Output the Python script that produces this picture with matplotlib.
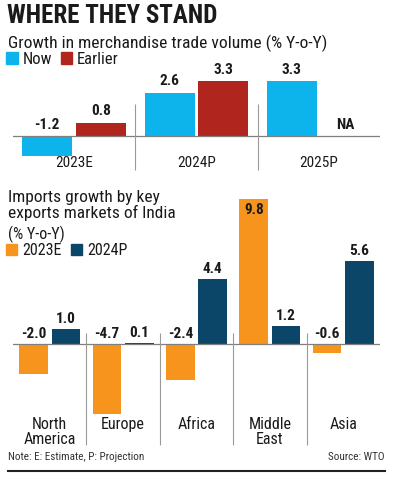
import numpy as np
import matplotlib
matplotlib.use("Agg")
import matplotlib.pyplot as plt
from matplotlib.lines import Line2D
from matplotlib.patches import Patch

plt.rcParams["font.family"] = ["Roboto Condensed", "Lato", "DejaVu Sans"]

# growth in merchandise trade volume
years = ["2023E", "2024P", "2025P"]
now = [-1.2, 2.6, 3.3]
earlier = [0.8, 3.3, np.nan]

# imports growth by key export markets
markets = ["North\nAmerica", "Europe", "Africa", "Middle\nEast", "Asia"]
imp_2023e = [-2.0, -4.7, -2.4, 9.8, -0.6]
imp_2024p = [1.0, 0.1, 4.4, 1.2, 5.6]

C_NOW = "#0db4ec"
C_EARLIER = "#b0261f"
C_23 = "#f7941e"
C_24 = "#0b4668"
C_TXT = "#1a1a1a"
C_SEP = "#9a9a9a"

W, H = 396, 478
fig = plt.figure(figsize=(W / 100, H / 100), dpi=100)


def px_axes(x0, y0, x1, y1):
    return fig.add_axes([x0 / W, 1 - y1 / H, (x1 - x0) / W, (y1 - y0) / H])


def clean(ax):
    for s in ax.spines.values():
        s.set_visible(False)
    ax.set_xticks([])
    ax.set_yticks([])
    ax.patch.set_alpha(0)


# titles
fig.text(7 / W, 1 - 4 / H, "WHERE THEY STAND", fontsize=18, fontweight="black",
         color=C_TXT, va="top", ha="left")
fig.text(8 / W, 1 - 35 / H, "Growth in merchandise trade volume (% Y-o-Y)",
         fontsize=12.6, color=C_TXT, va="top", ha="left")

# ---- top chart ----
ax1 = px_axes(13, 75, 380, 172)
clean(ax1)
x = np.arange(len(years))
off, bw = 0.22, 0.41
ax1.bar(x - off, now, bw, color=C_NOW)
ax1.bar(x + off, earlier, bw, color=C_EARLIER)
ax1.set_xlim(-0.5, len(years) - 0.5)
ax1.set_ylim(-2.16, 3.65)
ax1.axhline(0, color="#7f7f7f", lw=0.9)
ax1.vlines([0.5, 1.5], -2.04, 1.92, color=C_SEP, lw=0.8)
for xi, v in zip(x - off, now):
    ax1.text(xi, max(v, 0) + 0.25, f"{v:.1f}", ha="center", va="bottom",
             fontsize=11, fontweight="bold", color=C_TXT)
for xi, v in zip(x + off, earlier):
    lab = "NA" if np.isnan(v) else f"{v:.1f}"
    yv = 0 if np.isnan(v) else v
    ax1.text(xi, yv + 0.25, lab, ha="center", va="bottom",
             fontsize=11, fontweight="bold", color=C_TXT)
for xi, lab in zip(x, years):
    ax1.text(xi, -1.65, lab, ha="center", va="center", fontsize=11, color=C_TXT)

fig.legend(handles=[Patch(color=C_NOW, label="Now"), Patch(color=C_EARLIER, label="Earlier")],
           loc="upper left", bbox_to_anchor=(6 / W, 1 - 52 / H), ncol=2, frameon=False,
           fontsize=12, handlelength=0.7, handleheight=0.7, handletextpad=0.3,
           columnspacing=0.5, borderpad=0, borderaxespad=0, labelcolor=C_TXT)

# ---- bottom chart ----
fig.text(8 / W, 1 - 190 / H, "Imports growth by key\nexports markets of India",
         fontsize=12.5, color=C_TXT, va="top", ha="left", linespacing=1.0)
fig.text(8 / W, 1 - 226 / H, "(% Y-o-Y)", fontsize=11.5, color=C_TXT, va="top", ha="left")
fig.legend(handles=[Patch(color=C_23, label="2023E"), Patch(color=C_24, label="2024P")],
           loc="upper left", bbox_to_anchor=(6 / W, 1 - 243 / H), ncol=2, frameon=False,
           fontsize=11.5, handlelength=0.7, handleheight=0.7, handletextpad=0.3,
           columnspacing=0.6, borderpad=0, borderaxespad=0, labelcolor=C_TXT)

ax2 = px_axes(13, 190, 380, 448)
clean(ax2)
x2 = np.arange(len(markets))
off2, bw2 = 0.22, 0.39
ax2.bar(x2 - off2, imp_2023e, bw2, color=C_23)
ax2.bar(x2 + off2, imp_2024p, bw2, color=C_24)
ax2.set_xlim(-0.5, len(markets) - 0.5)
ax2.set_ylim(-7.03, 10.41)
ax2.axhline(0, color="#7f7f7f", lw=0.9)
ax2.vlines(x2[:-1] + 0.5, -6.82, 0.74, color=C_SEP, lw=0.8)
for xi, v in zip(x2 - off2, imp_2023e):
    if v > 9:
        ax2.text(xi, v - 0.3, f"{v:.1f}", ha="center", va="top",
                 fontsize=11, fontweight="bold", color=C_TXT)
    else:
        ax2.text(xi, max(v, 0) + 0.2, f"{v:.1f}", ha="center", va="bottom",
                 fontsize=11, fontweight="bold", color=C_TXT)
for xi, v in zip(x2 + off2, imp_2024p):
    ax2.text(xi, v + 0.2, f"{v:.1f}", ha="center", va="bottom",
             fontsize=11, fontweight="bold", color=C_TXT)
for xi, lab in zip(x2, markets):
    ax2.text(xi, -4.95, lab, ha="center", va="top", fontsize=11.5, color=C_TXT,
             linespacing=1.0)

# footer
fig.text(8 / W, 1 - 457 / H, "Note: E: Estimate, P: Projection", fontsize=8,
         color="#333333", va="center", ha="left")
fig.text(385 / W, 1 - 457 / H, "Source: WTO", fontsize=8, color="#333333",
         va="center", ha="right")
fig.add_artist(Line2D([8 / W, 385 / W], [1 - 471 / H, 1 - 471 / H], color="#222222", lw=1.5))

fig.savefig("out.png", dpi=100, facecolor="white")
